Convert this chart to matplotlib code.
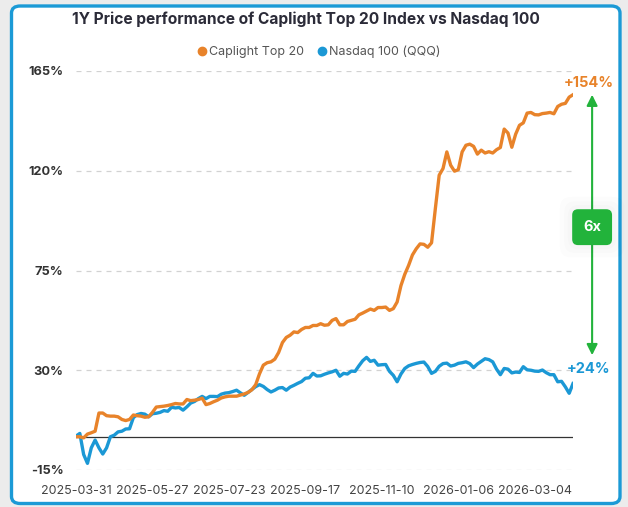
import matplotlib
matplotlib.use("Agg")
import matplotlib.pyplot as plt
from matplotlib.patches import FancyBboxPatch
import numpy as np

plt.rcParams['font.family'] = ['Inter', 'DejaVu Sans']

# ---- data (percent change, sampled every 2 trading days) ----
caplight = [0, 0, -0.5, 1.2, 1.8, 2.5, 10.7, 10.7, 9.5, 9.3,
            9.3, 9, 7.8, 7.3, 7.8, 9.8, 9.5, 9.3, 8.8, 9,
            11, 13.4, 13.6, 13.8, 14.1, 14.5, 15, 14.8, 14.8, 16.8,
            16.3, 16.5, 16.8, 17.4, 14.5, 15, 15.8, 16.5, 17.5, 18,
            18.3, 18.3, 18.3, 18.8, 19.3, 20, 21.2, 23.5, 28.4, 32.3,
            33.4, 33.8, 35, 38, 42.5, 44.8, 45.8, 47.3, 47, 48.4,
            49.3, 49.3, 50.2, 50.2, 51, 50.3, 50.5, 52.5, 53.3, 50.5,
            50.5, 52, 52.5, 53, 55, 55.8, 56.7, 57.6, 57, 58.3,
            58.3, 58.5, 57, 57.8, 60.8, 68.2, 73.3, 77.3, 82, 84.8,
            87, 86.8, 85.5, 87.5, 103, 118, 121, 128.5, 122.5, 119.8,
            120.5, 128.5, 131.5, 132, 131, 127.5, 129.3, 128, 128.6, 128,
            129.5, 130.5, 138.8, 137, 130.6, 136.5, 140.5, 141.6, 146, 146.3,
            145.3, 145.2, 145.8, 146, 146.3, 145.7, 149, 150, 150.4, 153.2,
            154.3]
nasdaq = [0.3, 1.5, -8, -12, -5, -1.5, -5, -7.8, -5, 0,
          0.7, 2.2, 2.5, 3.5, 3.6, 8.6, 10, 10.5, 10.2, 9,
          10.4, 10.6, 11, 11.8, 11.5, 13.3, 13, 13.2, 12, 13.5,
          15.2, 15.9, 17.2, 18.2, 17.2, 18.2, 18.2, 18.1, 19.2, 19.7,
          19.9, 20.4, 21, 19.8, 18.7, 20, 21.3, 22.6, 23.5, 22.7,
          21.3, 20.2, 21, 22, 22.2, 21, 22.4, 23.2, 24.1, 24.9,
          26.4, 26.6, 28.6, 27.4, 27.5, 28.2, 28.8, 29.3, 30, 27.3,
          28.6, 28.3, 29.6, 29.5, 32, 34.3, 35.8, 34, 34.5, 32.3,
          32.5, 32.6, 29.5, 27.7, 24.8, 28.3, 30.8, 32, 32.6, 33.1,
          33.5, 33.7, 31.7, 28.6, 29.5, 31.8, 33, 33.2, 31.9, 32.3,
          33.1, 33.4, 33.8, 33, 31.2, 32.8, 34, 35.2, 34.8, 33.8,
          30.5, 28, 30.8, 30.5, 28.8, 29.2, 29, 31.6, 30.2, 30,
          29.6, 29.5, 30.1, 28.9, 28, 28, 24.8, 25, 22.5, 19.6,
          24]
tick_dates = ['2025-03-31', '2025-05-27', '2025-07-23', '2025-09-17',
              '2025-11-10', '2026-01-06', '2026-03-04']
tick_every = 20          # samples between labelled dates
y_ticks = [-15, 30, 75, 120, 165]
series_names = ['Caplight Top 20', 'Nasdaq 100 (QQQ)']

C_OR = '#e8832a'
C_BL = '#1b98d5'
C_GR = '#22b33b'

W, H = 628, 507
fig = plt.figure(figsize=(W / 100, H / 100), dpi=100, facecolor='#ececec')

# panel with blue rounded border
panel = FancyBboxPatch((11.5 / W, 3.5 / H), (620 - 11.5) / W, (501 - 3.5) / H,
                       boxstyle="round,pad=0,rounding_size=0.014",
                       transform=fig.transFigure, facecolor='white',
                       edgecolor='#1b9ad6', linewidth=2.4, zorder=-10)
fig.patches.append(panel)

ax = fig.add_axes([76 / W, (H - 470) / H, (573 - 76) / W, (470 - 71) / H])
ax.set_zorder(5)
ax.set_facecolor('none')
x = np.arange(len(caplight))
ax.set_xlim(0, len(caplight) - 1)
ax.set_ylim(y_ticks[0], y_ticks[-1])

for yv in y_ticks:
    ax.axhline(yv, color='#d2d2d2', lw=0.9, ls=(0, (4, 4)), zorder=1)
ax.axhline(0, color='#333333', lw=0.9, zorder=2)

ax.plot(x, nasdaq, color=C_BL, lw=2.4, zorder=3, solid_joinstyle='round')
ax.plot(x, caplight, color=C_OR, lw=2.4, zorder=4, solid_joinstyle='round')

for s in ax.spines.values():
    s.set_visible(False)
ax.set_yticks(y_ticks)
ax.set_yticklabels([f'{v}%' for v in y_ticks], fontsize=9.2, fontweight='bold', color='#333333')
ax.set_xticks(np.arange(len(tick_dates)) * tick_every)
ax.set_xticklabels(tick_dates, fontsize=9, color='#444444')
ax.tick_params(axis='x', length=0, pad=11)
ax.tick_params(axis='y', length=0, pad=9)

# title and legend
fig.text(306 / W, 1 - 19 / H, '1Y Price performance of Caplight Top 20 Index vs Nasdaq 100',
         ha='center', va='center', fontsize=11.2, fontweight='bold', color='#2b2b38')
lg = fig.legend([plt.Line2D([], [], ls='none', marker='o', ms=6, color=C_OR),
                 plt.Line2D([], [], ls='none', marker='o', ms=6, color=C_BL)],
                series_names, loc='center', bbox_to_anchor=(318 / W, 1 - 52 / H),
                ncol=2, frameon=False, fontsize=9, handletextpad=0.1,
                columnspacing=0.9, handlelength=1.0, labelcolor='#555555')

# end labels and multiple arrow
end_c = caplight[-1]
end_n = nasdaq[-1]
xe = len(caplight) - 1
ax.text(xe + 4.2, end_c + 5.5, f'+{round(end_c)}%', ha='center', va='center',
        fontsize=10.5, fontweight='bold', color=C_OR, clip_on=False)
ax.text(xe + 4.1, end_n + 6.5, f'+{round(end_n)}%', ha='center', va='center',
        fontsize=10.5, fontweight='bold', color=C_BL, clip_on=False)
xa = xe + 5.0
ax.annotate('', xy=(xa, end_c), xytext=(xa, end_n + 12.8),
            arrowprops=dict(arrowstyle='<|-|>', color=C_GR, lw=1.5,
                            mutation_scale=16, shrinkA=0, shrinkB=0),
            annotation_clip=False)
mid = (end_c + end_n + 12.8) / 2 - 1
label = f'{round(end_c / end_n)}x'
for pad in [1.6, 1.3, 1.05]:
    ax.text(xa, mid, label, ha='center', va='center',
            fontsize=10.5, fontweight='bold', color='none', clip_on=False,
            bbox=dict(boxstyle=f'round,pad={pad},rounding_size=0.8', fc='black',
                      ec='none', alpha=0.012), zorder=4)
ax.text(xa, mid, label, ha='center', va='center',
        fontsize=10.5, fontweight='bold', color='white', clip_on=False,
        bbox=dict(boxstyle='round,pad=0.75,rounding_size=0.4', fc=C_GR, ec='none'),
        zorder=5)

fig.savefig('out.png', dpi=100, facecolor=fig.get_facecolor())
